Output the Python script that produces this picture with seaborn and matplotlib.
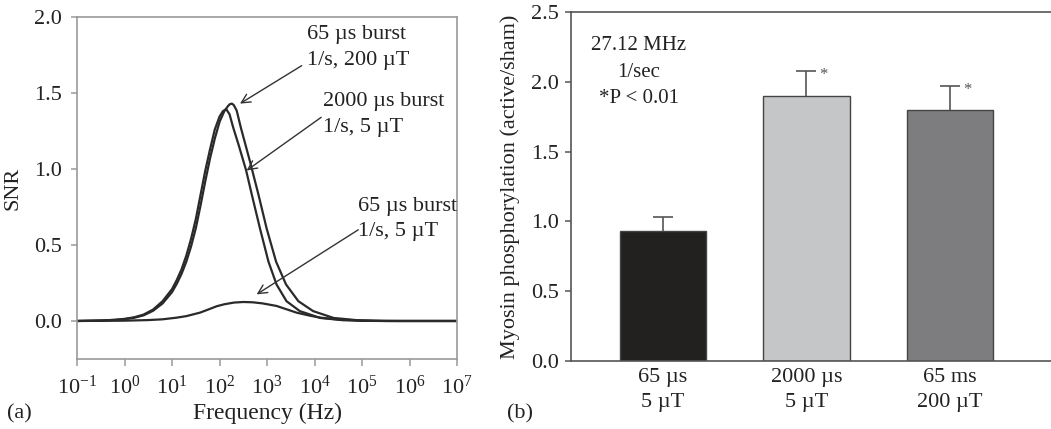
import numpy as np
import pandas as pd
import matplotlib
matplotlib.use("Agg")
import matplotlib.pyplot as plt
import seaborn as sns

# ---------------- data ----------------
# Panel (a): SNR vs frequency (log10 Hz exponents)
log_f_2000us = [-1.0, -0.5, -0.2, 0.0, 0.2, 0.4, 0.6, 0.8, 1.0, 1.1, 1.2, 1.3, 1.4, 1.5, 1.6,
                1.7, 1.8, 1.9, 2.0, 2.07, 2.14, 2.21, 2.29, 2.4, 2.56, 2.68, 2.85, 3.03, 3.2,
                3.41, 3.69, 4.12, 4.6, 5.0, 5.5, 7.0]
snr_2000us = [0.0, 0.003, 0.008, 0.014, 0.024, 0.042, 0.075, 0.13, 0.21, 0.27, 0.34, 0.43, 0.54,
              0.67, 0.83, 0.99, 1.13, 1.26, 1.345, 1.38, 1.394, 1.36, 1.27, 1.16, 0.99, 0.83,
              0.61, 0.39, 0.24, 0.13, 0.065, 0.02, 0.005, 0.001, 0.0, 0.0]

log_f_65us_200 = [-1.0, -0.5, -0.2, 0.0, 0.2, 0.4, 0.6, 0.8, 1.0, 1.1, 1.2, 1.3, 1.4, 1.5, 1.6,
                  1.7, 1.8, 1.9, 2.0, 2.1, 2.18, 2.22, 2.26, 2.3, 2.36, 2.45, 2.64, 2.82, 2.99,
                  3.19, 3.4, 3.66, 3.97, 4.4, 4.9, 5.3, 5.8, 7.0]
snr_65us_200 = [0.0, 0.003, 0.007, 0.012, 0.021, 0.037, 0.067, 0.115, 0.19, 0.245, 0.31, 0.39,
                0.49, 0.61, 0.76, 0.92, 1.07, 1.2, 1.31, 1.38, 1.415, 1.427, 1.43, 1.42, 1.385,
                1.27, 1.05, 0.83, 0.61, 0.39, 0.24, 0.13, 0.065, 0.02, 0.005, 0.001, 0.0, 0.0]

log_f_65us_5 = [-1.0, 0.0, 0.5, 0.8, 1.1, 1.3, 1.59, 1.8, 1.94, 2.1, 2.3, 2.5, 2.7, 2.9, 3.2,
                3.4, 3.62, 3.9, 4.12, 4.5, 5.0, 5.5, 7.0]
snr_65us_5 = [0.0, 0.002, 0.006, 0.011, 0.022, 0.032, 0.055, 0.08, 0.097, 0.11, 0.121, 0.125,
              0.123, 0.116, 0.099, 0.078, 0.055, 0.035, 0.022, 0.01, 0.003, 0.0, 0.0]

a_xticks_exp = [-1, 0, 1, 2, 3, 4, 5, 6, 7]
a_yticks = [0.0, 0.5, 1.0, 1.5, 2.0]

# Panel (b): myosin phosphorylation
b_categories = ["65 µs\n5 µT", "2000 µs\n5 µT", "65 ms\n200 µT"]
b_values = [0.93, 1.90, 1.80]
b_err_top = [1.03, 2.08, 1.97]
b_colors = ["#231f20", "#c5c6c8", "#7c7d80"]
b_yticks = [0.0, 0.5, 1.0, 1.5, 2.0, 2.5]

# ---------------- style ----------------
sns.set_theme(style="white")
plt.rcParams["font.family"] = ["Liberation Serif", "DejaVu Serif"]
plt.rcParams["mathtext.fontset"] = "custom"
plt.rcParams["mathtext.rm"] = "Liberation Serif"
plt.rcParams["mathtext.it"] = "Liberation Serif:italic"
plt.rcParams["mathtext.bf"] = "Liberation Serif:bold"

FS = 16
TXT = "#222222"
fig = plt.figure(figsize=(10.51, 4.29), dpi=100)

# ---------------- panel (a) ----------------
ax1 = fig.add_axes([0.0733, 0.1632, 0.3616, 0.7972])
curve_col = "#2a2a2a"
for lf, s in [(log_f_2000us, snr_2000us), (log_f_65us_200, snr_65us_200), (log_f_65us_5, snr_65us_5)]:
    df = pd.DataFrame({"f": np.power(10.0, lf), "snr": s})
    sns.lineplot(data=df, x="f", y="snr", ax=ax1, color=curve_col, lw=1.6,
                 estimator=None, sort=False)
ax1.set_xscale("log")
ax1.set_xlim(10.0 ** -1, 10.0 ** 7)
ax1.set_ylim(-0.25, 2.0)
ax1.set_xticks([10.0 ** e for e in a_xticks_exp])
ax1.set_xticklabels([r"$10^{%d}$" % e for e in a_xticks_exp])
ax1.xaxis.set_minor_locator(matplotlib.ticker.NullLocator())
ax1.set_yticks(a_yticks)
ax1.set_yticklabels([f"{v:.1f}" for v in a_yticks])
for sp in ax1.spines.values():
    sp.set_color("#9a9a9a")
    sp.set_linewidth(1.2)
ax1.tick_params(axis="x", direction="out", length=5, width=1.1, color="#9a9a9a",
                labelsize=FS, labelcolor=TXT, pad=7, bottom=True)
ax1.tick_params(axis="y", direction="out", length=4, width=1.1, color="#9a9a9a",
                labelsize=FS, labelcolor=TXT, pad=7, left=True)
ax1.set_xlabel("Frequency (Hz)", fontsize=FS + 1, color=TXT, labelpad=3)
ax1.set_ylabel("SNR", fontsize=FS, color=TXT, labelpad=8)

arrow_kw = dict(arrowstyle="->", color="#333333", lw=1.0, mutation_scale=16,
                shrinkA=0, shrinkB=0)
# arrows (tail -> head) in data coordinates
ax1.annotate("", xy=(10 ** 2.43, 1.43), xytext=(10 ** 3.73, 1.68), arrowprops=arrow_kw)
ax1.annotate("", xy=(10 ** 2.57, 0.99), xytext=(10 ** 4.14, 1.34), arrowprops=arrow_kw)
ax1.annotate("", xy=(10 ** 2.78, 0.175), xytext=(10 ** 4.92, 0.60), arrowprops=arrow_kw)
ax1.text(10 ** 3.84, 1.80, "65 µs burst\n1/s, 200 µT", fontsize=FS, color=TXT,
         ha="left", va="center", linespacing=1.45)
ax1.text(10 ** 4.18, 1.358, "2000 µs burst\n1/s, 5 µT", fontsize=FS, color=TXT,
         ha="left", va="center", linespacing=1.45)
ax1.text(10 ** 4.92, 0.672, "65 µs burst\n1/s, 5 µT", fontsize=FS, color=TXT,
         ha="left", va="center", linespacing=1.45)

# ---------------- panel (b) ----------------
ax2 = fig.add_axes([0.5433, 0.1585, 0.4567, 0.8135])
dfb = pd.DataFrame({"cat": b_categories, "val": b_values})
sns.barplot(data=dfb, x="cat", y="val", hue="cat", palette=b_colors, width=0.6,
            edgecolor="#444444", linewidth=1.0, ax=ax2, legend=False)
xpos = np.arange(len(b_categories))
err_up = np.array(b_err_top) - np.array(b_values)
eb = ax2.errorbar(xpos, b_values, yerr=[np.zeros_like(err_up), err_up], fmt="none",
                  ecolor="#555555", elinewidth=1.2, capsize=7, capthick=1.2, zorder=1)
eb[1][0].set_visible(False)  # hide lower caps
for i in [1, 2]:
    ax2.text(xpos[i] + 0.12, b_err_top[i] - 0.03, "*", fontsize=12, color="#555555",
             ha="center", va="center")
ax2.set_xlim(-0.641, 2.704)
ax2.set_ylim(0, 2.5)
ax2.set_yticks(b_yticks)
ax2.set_yticklabels([f"{v:.1f}" for v in b_yticks])
for name, sp in ax2.spines.items():
    sp.set_color("#555555")
    sp.set_linewidth(1.2)
ax2.spines["right"].set_visible(False)
ax2.tick_params(axis="y", direction="out", length=4, width=1.1, color="#555555",
                labelsize=FS, labelcolor=TXT, pad=5, left=True)
ax2.tick_params(axis="x", length=0, labelsize=FS, labelcolor=TXT, pad=5)
for lab in ax2.get_xticklabels():
    lab.set_linespacing(1.4)
ax2.set_xlabel("")
ax2.set_ylabel("Myosin phosphorylation (active/sham)", fontsize=FS, color=TXT, labelpad=8)
ax2.text(-0.17, 2.07, "27.12 MHz\n1/sec\n*P < 0.01", fontsize=FS - 1, color=TXT,
         ha="center", va="center", linespacing=1.55)

# panel labels
fig.text(0.007, 0.035, "(a)", fontsize=FS, color=TXT, ha="left", va="center")
fig.text(0.482, 0.035, "(b)", fontsize=FS, color=TXT, ha="left", va="center")

fig.savefig("out.png", dpi=100)
